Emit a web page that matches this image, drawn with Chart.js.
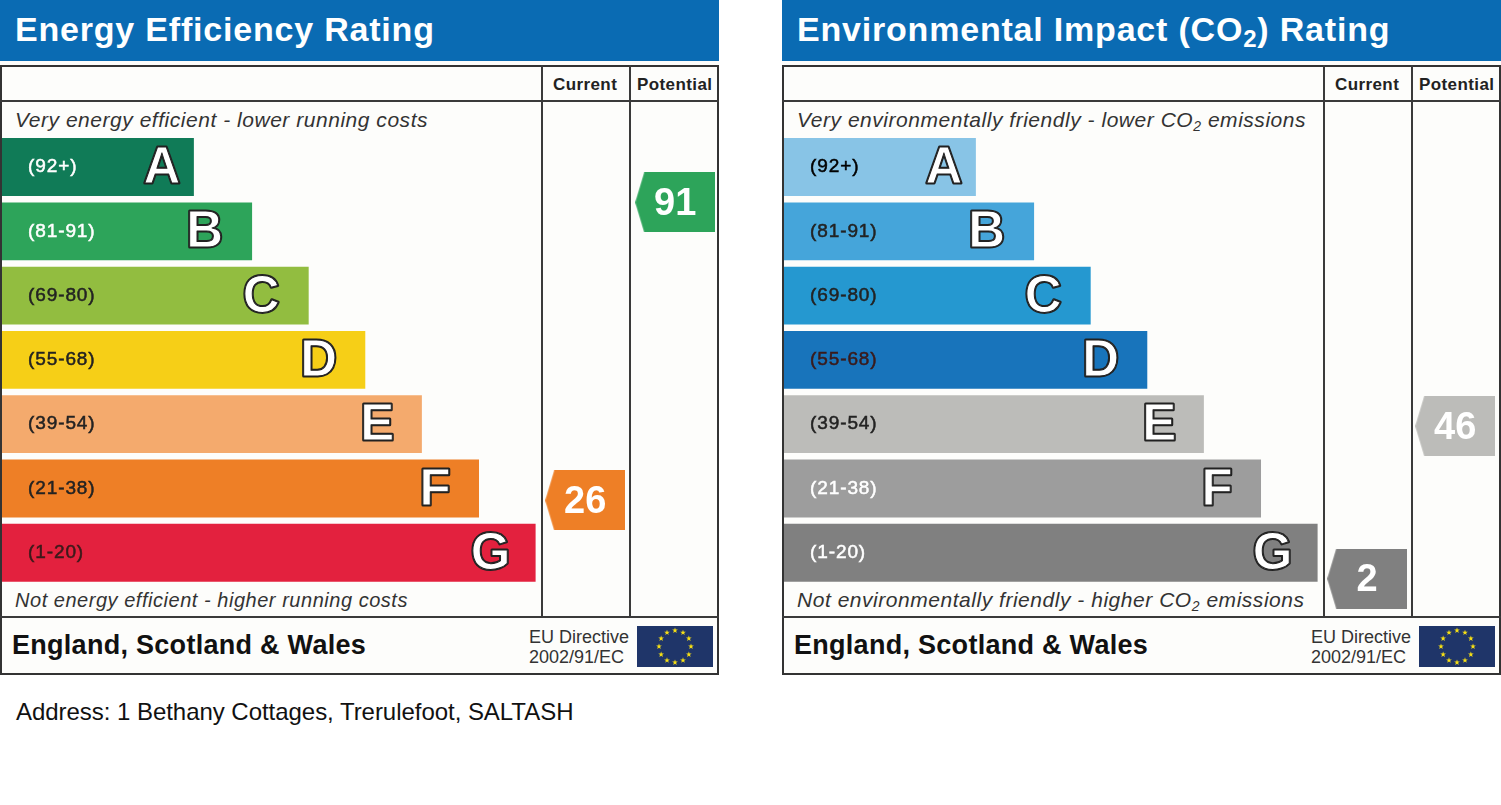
<!DOCTYPE html>
<html>
<head>
<meta charset="utf-8">
<title>EPC ratings</title>
<script src="https://cdn.jsdelivr.net/npm/chart.js@4"></script>
<style>
    html, body { margin: 0; padding: 0; background: #fff; overflow: hidden; }
    body { width: 1501px; height: 805px; position: relative; font-family: "Liberation Sans", Arial, sans-serif; }
    .panel { position: absolute; top: 0; width: 719px; height: 675px; background: #fdfdfb; }
    .panel canvas { position: absolute; left: 0; top: 0; }
    .banner { position: absolute; left: 0; top: 0; width: 719px; height: 61px; background: #0a6bb3; }
    .title { position: absolute; left: 15px; top: 10px; color: #fff; font-weight: bold; font-size: 34px; line-height: 38px; letter-spacing: 0.8px; white-space: nowrap; }
    .title sub { font-size: 24px; line-height: 0; vertical-align: -6px; }
    .frame { position: absolute; left: 0; top: 65px; width: 715px; height: 606px; border: 2px solid #333; }
    .hline { position: absolute; left: 0; width: 719px; height: 2px; background: #3a3a3a; }
    .vline { position: absolute; top: 65px; width: 2px; height: 552px; background: #3a3a3a; }
    .col { position: absolute; top: 75px; color: #222; font-weight: bold; font-size: 17px; line-height: 20px; letter-spacing: 0.4px; }
    .note { position: absolute; left: 15px; color: #333; font-style: italic; font-size: 21px; line-height: 24px; letter-spacing: 0.53px; white-space: nowrap; }
    .note sub { font-size: 14px; line-height: 0; vertical-align: -4px; }
    .region { position: absolute; left: 12px; top: 630px; color: #111; font-weight: bold; font-size: 27px; line-height: 30px; letter-spacing: 0.28px; white-space: nowrap; }
    .directive { position: absolute; left: 529px; top: 627px; color: #333; font-size: 18px; line-height: 20px; white-space: nowrap; }
    .flag { position: absolute; left: 637px; top: 626px; }
    .address { position: absolute; left: 16px; top: 698px; color: #111; font-size: 24px; line-height: 28px; letter-spacing: -0.04px; white-space: nowrap; }
</style>
</head>
<body>
<div class="address">Address: 1 Bethany Cottages, Trerulefoot, SALTASH</div>
<script>
const bandLetters = ['A', 'B', 'C', 'D', 'E', 'F', 'G'];
const bandRanges = ['(92+)', '(81-91)', '(69-80)', '(55-68)', '(39-54)', '(21-38)', '(1-20)'];
const bandTops = [100, 91, 80, 68, 54, 38, 20];
const bandBottoms = [92, 81, 69, 55, 39, 21, 1];
// bar length, percent of the row width left of the Current column
const barLengths = [35.6, 46.4, 56.9, 67.4, 77.9, 88.5, 99.0];

const energyColors = ['#107b57', '#2da45a', '#92bd40', '#f6cf17', '#f4aa6d', '#ee7f26', '#e3213e'];
const energyLabelColors = ['#fff', '#fff', '#222', '#222', '#222', '#222', '#3a1a1a'];
const energyCurrent = 26;
const energyPotential = 91;

const co2Colors = ['#88c4e6', '#45a5da', '#2598d0', '#1874bb', '#bcbcb9', '#9d9d9d', '#808080'];
const co2LabelColors = ['#000', '#222', '#222', '#3a1a1a', '#222', '#fff', '#fff'];
const co2Current = 2;
const co2Potential = 46;

const currentColumn = 108.2;
const energyPotentialColumn = 124.9;
const co2PotentialColumn = 124.53;
// how far each big letter sits back from the end of its bar
const letterOffsets = [32, 47.5, 47.5, 46.5, 44.5, 44, 45];

function bandOf(rating) {
    return bandTops.findIndex((top, i) => rating <= top && rating >= bandBottoms[i]);
}

function ratingPosition(rating) {
    const band = bandOf(rating);
    const frac = (bandTops[band] - rating) / (bandTops[band] - bandBottoms[band]);
    return band - 0.45 + 0.9 * frac;
}

function arrowImage(color) {
    const c = document.createElement('canvas');
    c.width = 80;
    c.height = 60;
    const g = c.getContext('2d');
    g.fillStyle = color;
    g.beginPath();
    g.moveTo(0, 30);
    g.lineTo(9, 0);
    g.lineTo(80, 0);
    g.lineTo(80, 60);
    g.lineTo(9, 60);
    g.closePath();
    g.fill();
    return c;
}

const lettersPlugin = {
    id: 'letters',
    beforeDraw(chart) {
        chart.ctx.letterSpacing = '0.9px';
    },
    afterDatasetsDraw(chart) {
        const ctx = chart.ctx;
        ctx.save();
        ctx.letterSpacing = '0px';
        ctx.textAlign = 'center';
        ctx.textBaseline = 'middle';
        ctx.lineJoin = 'round';
        chart.getDatasetMeta(0).data.forEach((bar, i) => {
            const x = bar.x - letterOffsets[i];
            ctx.font = 'bold 51px "Liberation Sans"';
            ctx.strokeStyle = '#222';
            ctx.fillStyle = '#fff';
            ctx.lineWidth = 3;
            ctx.strokeText(bandLetters[i], x, bar.y + 2);
            ctx.fillText(bandLetters[i], x, bar.y + 2);
            ctx.lineWidth = 1;
            ctx.strokeText(bandLetters[i], x, bar.y + 2);
        });
        const arrows = chart.getDatasetMeta(1);
        arrows.data.forEach((pt, i) => {
            ctx.font = 'bold 38px "Liberation Sans"';
            ctx.fillStyle = '#fff';
            ctx.fillText(String(arrows._dataset.ratings[i]), pt.x, pt.y + 2);
        });
        ctx.restore();
    }
};

function euFlag() {
    const cx = 38, cy = 20.5, ring = 16, outer = 3, inner = 1.2;
    let stars = '';
    for (let i = 0; i < 12; i++) {
        const a = i * Math.PI / 6;
        const sx = cx + ring * Math.sin(a), sy = cy - ring * Math.cos(a);
        const pts = [];
        for (let k = 0; k < 10; k++) {
            const r = k % 2 ? inner : outer, t = k * Math.PI / 5;
            pts.push((sx + r * Math.sin(t)).toFixed(2) + ',' + (sy - r * Math.cos(t)).toFixed(2));
        }
        stars += '<polygon fill="#f7e014" points="' + pts.join(' ') + '"/>';
    }
    return '<svg class="flag" width="76" height="41"><rect width="76" height="41" fill="#1f3569"/>' + stars + '</svg>';
}

function buildPanel(left, titleHtml, topNote, bottomNote, colors, labelColors, current, potential, potentialColumn) {
    const panel = document.createElement('div');
    panel.className = 'panel';
    panel.style.left = left + 'px';
    panel.innerHTML =
        '<div class="banner"></div>' +
        '<div class="title">' + titleHtml + '</div>' +
        '<div class="frame"></div>' +
        '<div class="hline" style="top:100px"></div>' +
        '<div class="hline" style="top:616px"></div>' +
        '<div class="vline" style="left:541px"></div>' +
        '<div class="vline" style="left:629px"></div>' +
        '<div class="col" style="left:553px">Current</div>' +
        '<div class="col" style="left:637px">Potential</div>' +
        '<div class="note" style="top:108px">' + topNote + '</div>' +
        '<div class="note" style="top:588px">' + bottomNote + '</div>' +
        '<div class="region">England, Scotland &amp; Wales</div>' +
        '<div class="directive">EU Directive<br>2002/91/EC</div>' +
        euFlag() +
        '<canvas width="719" height="675"></canvas>';
    document.body.appendChild(panel);

    new Chart(panel.querySelector('canvas'), {
        type: 'bar',
        data: {
            datasets: [
                {
                    data: barLengths.map((len, i) => ({ x: len, y: i })),
                    backgroundColor: colors,
                    barPercentage: 0.9,
                    categoryPercentage: 1
                },
                {
                    type: 'scatter',
                    clip: false,
                    data: [
                        { x: currentColumn, y: ratingPosition(current) },
                        { x: potentialColumn, y: ratingPosition(potential) }
                    ],
                    ratings: [current, potential],
                    pointStyle: [arrowImage(colors[bandOf(current)]), arrowImage(colors[bandOf(potential)])],
                    pointRadius: 10
                }
            ]
        },
        options: {
            indexAxis: 'y',
            responsive: false,
            animation: false,
            layout: { autoPadding: false, padding: { left: 2, right: 1, top: 134.9, bottom: 90.1 } },
            plugins: { legend: { display: false }, tooltip: { enabled: false } },
            scales: {
                x: { type: 'linear', display: false, min: 0, max: 132.84 },
                y: {
                    type: 'linear',
                    position: 'left',
                    reverse: true,
                    offset: false,
                    min: -0.5,
                    max: 6.5,
                    afterFit: s => { s.width = 0; s.paddingTop = 0; s.paddingBottom = 0; },
                    afterBuildTicks: s => { s.ticks = bandRanges.map((r, i) => ({ value: i })); },
                    border: { display: false },
                    grid: { display: false, drawTicks: false },
                    ticks: {
                        z: 1,
                        mirror: true,
                        padding: 26,
                        autoSkip: false,
                        font: { family: '"Liberation Sans"', size: 19, weight: 'normal' },
                        callback: v => bandRanges[v],
                        color: ctx => labelColors[ctx.index],
                        textStrokeColor: ctx => labelColors[ctx.index],
                        textStrokeWidth: 0.5
                    }
                }
            }
        },
        plugins: [lettersPlugin]
    });
}

buildPanel(0, 'Energy Efficiency Rating',
    'Very energy efficient - lower running costs',
    '<span style="font-size:20px">Not energy efficient - higher running costs</span>',
    energyColors, energyLabelColors, energyCurrent, energyPotential, energyPotentialColumn);

buildPanel(782, 'Environmental Impact (CO<sub>2</sub>) Rating',
    'Very environmentally friendly - lower CO<sub>2</sub> emissions',
    'Not environmentally friendly - higher CO<sub>2</sub> emissions',
    co2Colors, co2LabelColors, co2Current, co2Potential, co2PotentialColumn);
</script>
</body>
</html>
